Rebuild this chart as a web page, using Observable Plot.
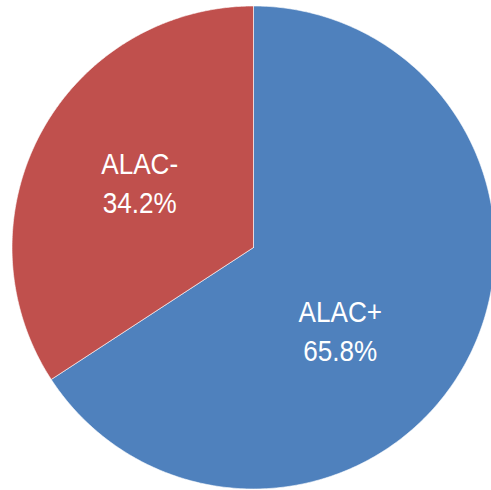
<!DOCTYPE html>
<html><head><meta charset="utf-8">
<script src="https://cdn.jsdelivr.net/npm/d3@7"></script>
<script src="https://cdn.jsdelivr.net/npm/@observablehq/plot@0.6"></script>
<style>body{margin:0;background:#fff}</style>
</head><body><div id="chart"></div>
<script>
const categories = ["ALAC+", "ALAC-"];
const values = [65.8, 34.2];
const colors = ["#4F81BD", "#C0504D"];
const labelOffsets = [[-30, 18], [3, -3]];

const data = categories.map((c, i) => ({name: c, value: values[i], color: colors[i], off: labelOffsets[i]}));
const arcs = d3.pie().value(d => d.value).sort(null)(data);

const pts = [];
arcs.forEach((a, i) => {
  pts.push({k: i, x: 0, y: 0, color: a.data.color});
  const n = 300;
  for (let j = 0; j <= n; j++) {
    const t = a.startAngle + (a.endAngle - a.startAngle) * j / n;
    pts.push({k: i, x: Math.sin(t), y: Math.cos(t), color: a.data.color});
  }
  pts.push({k: i, x: 0, y: 0, color: a.data.color});
});
const labels = arcs.map(a => {
  const m = (a.startAngle + a.endAngle) / 2;
  return {x: 0.55 * Math.sin(m), y: 0.55 * Math.cos(m),
          text: a.data.name + "\n" + a.data.value.toFixed(1) + "%", off: a.data.off};
});

const cx = 253, cy = 247, R = 241.5, W = 491, H = 490;
const chart = Plot.plot({
  width: W, height: H, margin: 0,
  x: {domain: [(0 - cx) / R, (W - cx) / R], range: [0, W], axis: null},
  y: {domain: [(cy - H) / R, cy / R], range: [H, 0], axis: null},
  marks: [
    Plot.line(pts, {x: "x", y: "y", z: "k", fill: d => d.color, stroke: "white", strokeWidth: 0.6, curve: "linear"}),
    ...labels.map(l => Plot.text([l], {x: "x", y: "y", text: "text", dx: l.off[0], dy: l.off[1],
      fill: "white", fontSize: 29, lineHeight: 1.34, className: "lbl",
      fontFamily: "'Liberation Sans', Arial, sans-serif"}))
  ]
});
d3.select(chart).selectAll(".lbl text").each(function() {
  const t = this.getAttribute("transform") || "";
  this.setAttribute("transform", t + " scale(0.9,1)");
});
document.getElementById("chart").append(chart);
</script></body></html>
